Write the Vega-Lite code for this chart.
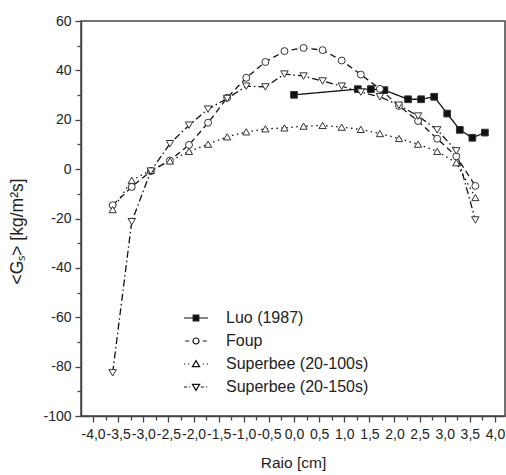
{
  "$schema": "https://vega.github.io/schema/vega-lite/v6.json",
  "width": 424,
  "height": 395,
  "autosize": {"type": "none"},
  "padding": {"left": 81, "top": 21, "right": 1, "bottom": 59},
  "config": {
    "view": {"stroke": "#444", "strokeWidth": 1.5},
    "font": "Liberation Sans",
    "axis": {"labelFont": "Liberation Sans", "titleFont": "Liberation Sans", "labelColor": "#222", "titleColor": "#222", "titleFontWeight": "normal", "domainColor": "#444", "domainWidth": 1.5, "tickColor": "#444", "tickWidth": 1.3, "grid": false}
  },
  "data": {"values": [
    {"serie": "Luo (1987)", "r": 0.0, "g": 30.1},
    {"serie": "Luo (1987)", "r": 1.27, "g": 32.4},
    {"serie": "Luo (1987)", "r": 1.53, "g": 32.4},
    {"serie": "Luo (1987)", "r": 1.8, "g": 32.0},
    {"serie": "Luo (1987)", "r": 2.27, "g": 28.3},
    {"serie": "Luo (1987)", "r": 2.53, "g": 28.3},
    {"serie": "Luo (1987)", "r": 2.79, "g": 29.3},
    {"serie": "Luo (1987)", "r": 3.05, "g": 22.5},
    {"serie": "Luo (1987)", "r": 3.3, "g": 15.9},
    {"serie": "Luo (1987)", "r": 3.55, "g": 12.7},
    {"serie": "Luo (1987)", "r": 3.8, "g": 14.8},

    {"serie": "Foup", "r": -3.61, "g": -14.6},
    {"serie": "Foup", "r": -3.23, "g": -7.2},
    {"serie": "Foup", "r": -2.85, "g": -0.8},
    {"serie": "Foup", "r": -2.47, "g": 3.5},
    {"serie": "Foup", "r": -2.09, "g": 9.8},
    {"serie": "Foup", "r": -1.71, "g": 18.8},
    {"serie": "Foup", "r": -1.33, "g": 28.9},
    {"serie": "Foup", "r": -0.95, "g": 37.0},
    {"serie": "Foup", "r": -0.57, "g": 43.4},
    {"serie": "Foup", "r": -0.19, "g": 47.8},
    {"serie": "Foup", "r": 0.19, "g": 49.1},
    {"serie": "Foup", "r": 0.57, "g": 48.2},
    {"serie": "Foup", "r": 0.95, "g": 44.0},
    {"serie": "Foup", "r": 1.33, "g": 38.3},
    {"serie": "Foup", "r": 1.71, "g": 32.5},
    {"serie": "Foup", "r": 2.09, "g": 25.6},
    {"serie": "Foup", "r": 2.47, "g": 19.5},
    {"serie": "Foup", "r": 2.85, "g": 12.3},
    {"serie": "Foup", "r": 3.23, "g": 5.2},
    {"serie": "Foup", "r": 3.61, "g": -6.8},

    {"serie": "Superbee (20-100s)", "r": -3.61, "g": -16.4},
    {"serie": "Superbee (20-100s)", "r": -3.23, "g": -4.5},
    {"serie": "Superbee (20-100s)", "r": -2.85, "g": -0.5},
    {"serie": "Superbee (20-100s)", "r": -2.47, "g": 3.3},
    {"serie": "Superbee (20-100s)", "r": -2.09, "g": 7.2},
    {"serie": "Superbee (20-100s)", "r": -1.71, "g": 10.1},
    {"serie": "Superbee (20-100s)", "r": -1.33, "g": 13.1},
    {"serie": "Superbee (20-100s)", "r": -0.95, "g": 15.1},
    {"serie": "Superbee (20-100s)", "r": -0.57, "g": 16.3},
    {"serie": "Superbee (20-100s)", "r": -0.19, "g": 16.7},
    {"serie": "Superbee (20-100s)", "r": 0.19, "g": 17.4},
    {"serie": "Superbee (20-100s)", "r": 0.57, "g": 17.7},
    {"serie": "Superbee (20-100s)", "r": 0.95, "g": 17.0},
    {"serie": "Superbee (20-100s)", "r": 1.33, "g": 16.1},
    {"serie": "Superbee (20-100s)", "r": 1.71, "g": 14.4},
    {"serie": "Superbee (20-100s)", "r": 2.09, "g": 12.4},
    {"serie": "Superbee (20-100s)", "r": 2.47, "g": 10.1},
    {"serie": "Superbee (20-100s)", "r": 2.85, "g": 7.2},
    {"serie": "Superbee (20-100s)", "r": 3.23, "g": 2.6},
    {"serie": "Superbee (20-100s)", "r": 3.61, "g": -11.5},

    {"serie": "Superbee (20-150s)", "r": -3.61, "g": -82.5},
    {"serie": "Superbee (20-150s)", "r": -3.23, "g": -21.3},
    {"serie": "Superbee (20-150s)", "r": -2.85, "g": -0.8},
    {"serie": "Superbee (20-150s)", "r": -2.47, "g": 10.3},
    {"serie": "Superbee (20-150s)", "r": -2.09, "g": 17.8},
    {"serie": "Superbee (20-150s)", "r": -1.71, "g": 24.3},
    {"serie": "Superbee (20-150s)", "r": -1.33, "g": 28.6},
    {"serie": "Superbee (20-150s)", "r": -0.95, "g": 33.6},
    {"serie": "Superbee (20-150s)", "r": -0.57, "g": 33.3},
    {"serie": "Superbee (20-150s)", "r": -0.19, "g": 38.5},
    {"serie": "Superbee (20-150s)", "r": 0.19, "g": 37.7},
    {"serie": "Superbee (20-150s)", "r": 0.57, "g": 35.7},
    {"serie": "Superbee (20-150s)", "r": 0.95, "g": 33.6},
    {"serie": "Superbee (20-150s)", "r": 1.33, "g": 31.2},
    {"serie": "Superbee (20-150s)", "r": 1.71, "g": 29.3},
    {"serie": "Superbee (20-150s)", "r": 2.09, "g": 25.9},
    {"serie": "Superbee (20-150s)", "r": 2.47, "g": 21.5},
    {"serie": "Superbee (20-150s)", "r": 2.85, "g": 15.9},
    {"serie": "Superbee (20-150s)", "r": 3.23, "g": 7.4},
    {"serie": "Superbee (20-150s)", "r": 3.61, "g": -20.6}
  ]},
  "encoding": {
    "x": {
      "field": "r", "type": "quantitative",
      "scale": {"domain": [-4.24, 4.2], "nice": false, "zero": false},
      "axis": {
        "title": "Raio [cm]", "titleFontSize": 15.5, "titlePadding": 14,
        "labelFontSize": 14, "labelPadding": 5, "labelOverlap": false, "labelBound": false, "labelFlush": false,
        "values": [-4, -3.75, -3.5, -3.25, -3, -2.75, -2.5, -2.25, -2, -1.75, -1.5, -1.25, -1, -0.75, -0.5, -0.25, 0, 0.25, 0.5, 0.75, 1, 1.25, 1.5, 1.75, 2, 2.25, 2.5, 2.75, 3, 3.25, 3.5, 3.75, 4],
        "labelExpr": "datum.value % 0.5 === 0 ? (datum.value < 0 ? '-' : '') + replace(format(abs(datum.value), '.1f'), '.', ',') : ''",
        "tickSize": {"condition": {"test": "datum.value % 0.5 === 0", "value": 6}, "value": 4}
      }
    },
    "y": {
      "field": "g", "type": "quantitative",
      "scale": {"domain": [-100, 60], "nice": false, "zero": false},
      "axis": {
        "title": "<Gₛ> [kg/m²s]", "titleFontSize": 17.5, "titleAngle": -90,
        "titleX": -59, "titleY": 210, "titleAlign": "center", "titleBaseline": "alphabetic",
        "labelFontSize": 14, "labelPadding": 4, "labelOverlap": false, "labelBound": false, "labelFlush": false,
        "values": [-100, -90, -80, -70, -60, -50, -40, -30, -20, -10, 0, 10, 20, 30, 40, 50, 60],
        "labelExpr": "datum.value % 20 === 0 ? '' + datum.value : ''",
        "tickSize": {"condition": {"test": "datum.value % 20 === 0", "value": 6}, "value": 4}
      }
    }
  },
  "layer": [
    {
      "mark": {"type": "line", "stroke": "#111", "strokeWidth": 1.3},
      "encoding": {
        "detail": {"field": "serie"},
        "strokeDash": {
          "field": "serie", "type": "nominal", "legend": null,
          "scale": {"domain": ["Luo (1987)", "Foup", "Superbee (20-100s)", "Superbee (20-150s)"],
                    "range": [[1, 0], [6, 4], [1.5, 3.5], [7, 3, 1.5, 3]]}
        }
      }
    },
    {
      "mark": {"type": "point", "filled": true, "stroke": "#333", "strokeWidth": 1, "opacity": 1},
      "encoding": {
        "shape": {
          "field": "serie", "type": "nominal", "legend": null,
          "scale": {"domain": ["Luo (1987)", "Foup", "Superbee (20-100s)", "Superbee (20-150s)"],
                    "range": ["square", "circle", "triangle-up", "triangle-down"]}
        },
        "fill": {
          "field": "serie", "type": "nominal", "legend": null,
          "scale": {"domain": ["Luo (1987)", "Foup", "Superbee (20-100s)", "Superbee (20-150s)"],
                    "range": ["#111", "white", "white", "white"]}
        },
        "size": {
          "field": "serie", "type": "nominal", "legend": null,
          "scale": {"domain": ["Luo (1987)", "Foup", "Superbee (20-100s)", "Superbee (20-150s)"],
                    "range": [45, 55, 75, 75]}
        }
      }
    },
    {
      "mark": {"type": "point", "filled": true, "stroke": "#111", "strokeWidth": 1.2, "opacity": 0, "size": 0},
      "encoding": {
        "shape": {
          "field": "serie", "type": "nominal",
          "scale": {"domain": ["Luo (1987)", "Foup", "Superbee (20-100s)", "Superbee (20-150s)"],
                    "range": [
                      "M-3,0H-0.7M0.7,0H3M-0.7,-0.7H0.7V0.7H-0.7Z",
                      "M-2.7,0H-1.7M1.7,0H2.7M0.75,0A0.75,0.75 0 1,1 -0.75,0A0.75,0.75 0 1,1 0.75,0Z",
                      "M-3,0H-2.7M-2,0H-1.7M1.7,0H2M2.7,0H3M0,-0.85L0.9,0.65H-0.9Z",
                      "M-3,0H-2.2M-1.7,0H-1.4M1.2,0H2M2.5,0H2.8M-0.9,-0.65H0.9L0,0.85Z"
                    ]},
          "legend": {
            "orient": "none", "legendX": 107, "legendY": 289, "title": null,
            "symbolSize": 64, "symbolStrokeWidth": 1.2, "symbolOpacity": 1, "symbolStrokeColor": "#111",
            "labelFontSize": 16, "labelFont": "Liberation Sans", "labelColor": "#222", "labelOffset": 22,
            "labelLimit": 300, "rowPadding": 7,
            "encode": {"symbols": {"update": {"opacity": {"value": 1}, "strokeWidth": {"value": 1.2}}}}
          }
        },
        "fill": {
          "field": "serie", "type": "nominal",
          "scale": {"domain": ["Luo (1987)", "Foup", "Superbee (20-100s)", "Superbee (20-150s)"],
                    "range": ["#111", "white", "white", "white"]},
          "legend": {
            "orient": "none", "legendX": 107, "legendY": 289, "title": null,
            "symbolSize": 64, "symbolStrokeWidth": 1.2, "symbolOpacity": 1, "symbolStrokeColor": "#111",
            "labelFontSize": 16, "labelFont": "Liberation Sans", "labelColor": "#222", "labelOffset": 22,
            "labelLimit": 300, "rowPadding": 7,
            "encode": {"symbols": {"update": {"opacity": {"value": 1}, "strokeWidth": {"value": 1.2}}}}
          }
        }
      }
    },
    {
      "data": {"values": [{"label": "malha 3"}]},
      "mark": {"type": "text", "align": "right", "baseline": "alphabetic", "fontSize": 16, "font": "Liberation Sans", "color": "#222"},
      "encoding": {
        "x": {"datum": 3.9, "type": "quantitative"},
        "y": {"datum": 50.3, "type": "quantitative"},
        "text": {"field": "label"}
      }
    }
  ],
  "resolve": {"scale": {"shape": "independent", "fill": "independent", "size": "independent", "strokeDash": "independent"}}
}
